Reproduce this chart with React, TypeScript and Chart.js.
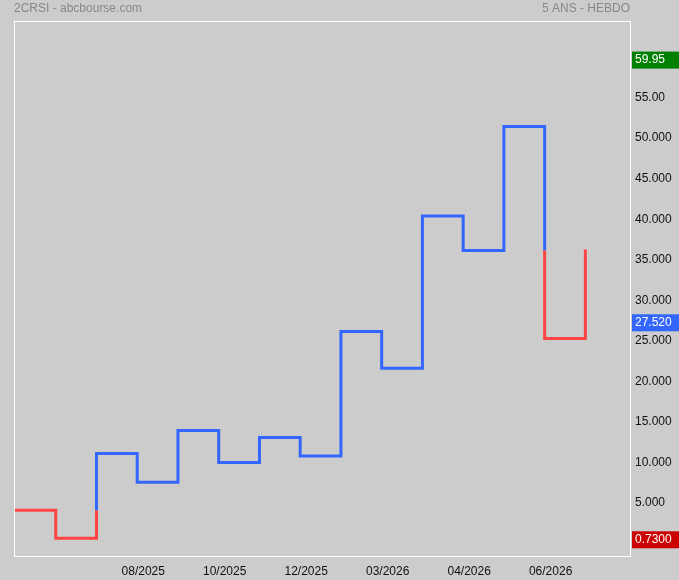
import { useEffect, useRef } from "react"
import { Chart, registerables } from "chart.js"

Chart.register(...registerables)

// kagi turning levels (one per column)
const levels = [3.83, 0.37, 10.83, 7.28, 13.67, 9.72, 12.8, 10.53, 25.89, 21.36, 40.16, 35.89, 51.2, 25.02, 36.0]

const xTickColumns = [3, 5, 7, 9, 11, 13]
const xTickLabels = ["08/2025", "10/2025", "12/2025", "03/2026", "04/2026", "06/2026"]

const yTickValues = [5, 10, 15, 20, 25, 30, 35, 40, 45, 50, 55]
const yTickLabels = ["5.000", "10.000", "15.000", "20.000", "25.000", "30.000", "35.000", "40.000", "45.000", "50.000", "55.00"]

const tagValues = [59.95, 27.52, 0.73]
const tagLabels = ["59.95", "27.520", "0.7300"]
const tagColors = ["#008000", "#3366ff", "#cc0000"]

const BLUE = "#3366ff"
const RED = "#ff4444"
const FONT = "'Liberation Sans', Arial, sans-serif"

// build the kagi path: blue (yang) once a rise beats the last shoulder,
// red (yin) once a fall breaks the last waist
function buildKagi() {
  const points: { x: number; y: number }[] = [{ x: 0, y: levels[0] }]
  const segColors: string[] = []
  let yang = false
  for (let i = 0; i < levels.length - 1; i++) {
    const from = levels[i]
    const to = levels[i + 1]
    const prev = i > 0 ? levels[i - 1] : null
    points.push({ x: i + 1, y: from })
    segColors.push(yang ? BLUE : RED)
    if (prev !== null && to > from && !yang && to > prev) {
      points.push({ x: i + 1, y: prev })
      segColors.push(RED)
      yang = true
    } else if (prev !== null && to < from && yang && to < prev) {
      points.push({ x: i + 1, y: prev })
      segColors.push(BLUE)
      yang = false
    }
    points.push({ x: i + 1, y: to })
    segColors.push(yang ? BLUE : RED)
  }
  return { points, segColors }
}

const decorPlugin = {
  id: "decor",
  beforeDraw(chart: Chart) {
    const ctx = chart.ctx
    ctx.save()
    ctx.fillStyle = "#cccccc"
    ctx.fillRect(0, 0, chart.width, chart.height)
    ctx.font = `12px ${FONT}`
    ctx.fillStyle = "#888888"
    ctx.textBaseline = "middle"
    ctx.textAlign = "left"
    ctx.fillText("2CRSI - abcbourse.com", 14, 9)
    ctx.textAlign = "right"
    ctx.fillText("5 ANS - HEBDO", 630, 9)
    ctx.restore()
  },
  beforeDatasetsDraw(chart: Chart) {
    const { ctx, chartArea: a } = chart
    ctx.save()
    ctx.strokeStyle = "#ffffff"
    ctx.lineWidth = 1
    ctx.strokeRect(a.left + 0.5, a.top + 0.5, a.right - a.left - 1, a.bottom - a.top - 1)
    ctx.restore()
  },
  afterDraw(chart: Chart) {
    const ctx = chart.ctx
    const y = chart.scales.y
    ctx.save()
    ctx.font = `12px ${FONT}`
    ctx.textBaseline = "middle"
    ctx.textAlign = "left"
    tagValues.forEach((v, i) => {
      const py = y.getPixelForValue(v) + 4.5
      ctx.fillStyle = tagColors[i]
      ctx.fillRect(632, py - 8.5, 47, 17)
      ctx.fillStyle = "#ffffff"
      ctx.fillText(tagLabels[i], 635, py)
    })
    ctx.restore()
  },
}

export default function App() {
  const canvasRef = useRef<HTMLCanvasElement>(null)
  const chartRef = useRef<Chart | null>(null)

  useEffect(() => {
    document.body.style.margin = "0"
    document.body.style.background = "#cccccc"
    if (!canvasRef.current) return
    if (chartRef.current) chartRef.current.destroy()

    const { points, segColors } = buildKagi()

    chartRef.current = new Chart(canvasRef.current, {
      type: "line",
      data: {
        datasets: [
          {
            data: points,
            borderColor: BLUE,
            borderWidth: 3,
            borderJoinStyle: "miter",
            borderCapStyle: "butt",
            pointRadius: 0,
            tension: 0,
            fill: false,
            segment: {
              borderColor: (c: any) => segColors[c.p0DataIndex],
            },
          },
        ],
      },
      options: {
        responsive: false,
        animation: false,
        devicePixelRatio: 1,
        layout: { padding: { left: 14, top: 21, right: 0, bottom: 0 } },
        plugins: {
          legend: { display: false },
          tooltip: { enabled: false },
        },
        scales: {
          x: {
            type: "linear",
            min: -0.0245,
            max: 15.12,
            grid: { display: false, drawTicks: false },
            border: { display: false },
            afterBuildTicks: (s: any) => {
              s.ticks = xTickColumns.map((v) => ({ value: v }))
            },
            afterFit: (s: any) => {
              s.height = 23
            },
            ticks: {
              autoSkip: false,
              maxRotation: 0,
              padding: 7,
              labelOffset: 6,
              color: "#111111",
              font: { family: FONT, size: 12 },
              callback: (_v: any, i: number) => xTickLabels[i],
            },
          },
          y: {
            type: "linear",
            position: "right",
            min: -1.95,
            max: 64.22,
            grid: { display: false, drawTicks: false },
            border: { display: false },
            afterBuildTicks: (s: any) => {
              s.ticks = yTickValues.map((v) => ({ value: v }))
            },
            afterFit: (s: any) => {
              s.width = 48
            },
            ticks: {
              padding: 4,
              labelOffset: 2,
              color: "#111111",
              font: { family: FONT, size: 12 },
              callback: (_v: any, i: number) => yTickLabels[i],
            },
          },
        },
      },
      plugins: [decorPlugin],
    })

    return () => {
      if (chartRef.current) {
        chartRef.current.destroy()
        chartRef.current = null
      }
    }
  }, [])

  return (
    <div style={{ width: 679, height: 580 }}>
      <canvas ref={canvasRef} width={679} height={580} />
    </div>
  )
}
